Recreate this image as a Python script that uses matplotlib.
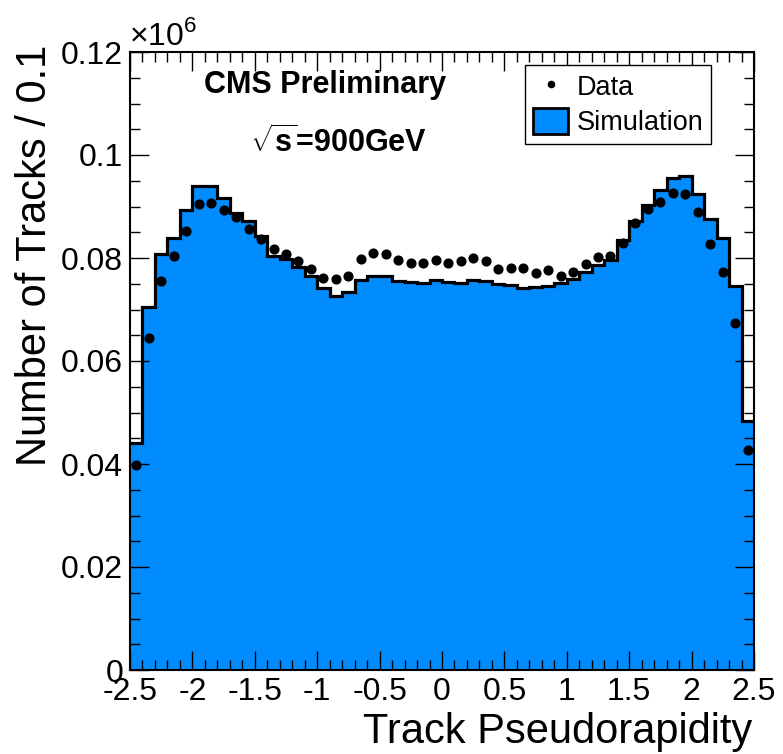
import numpy as np
import matplotlib
matplotlib.use("Agg")
import matplotlib.pyplot as plt
from matplotlib.lines import Line2D
from matplotlib.patches import Patch
from matplotlib.ticker import MultipleLocator, FuncFormatter

plt.rcParams["font.family"] = ["Liberation Sans", "DejaVu Sans"]
plt.rcParams["axes.unicode_minus"] = False
plt.rcParams["mathtext.fontset"] = "custom"
plt.rcParams["mathtext.rm"] = "Liberation Sans"
plt.rcParams["mathtext.bf"] = "Liberation Sans:bold"

BLUE = "#008cff"

# ── data: 50 bins of width 0.1 in eta, contents in units of 10^6 tracks ────
edges = np.round(np.linspace(-2.5, 2.5, 51), 2)

sim = [0.0441, 0.0705, 0.0807, 0.0838, 0.0893, 0.0939, 0.0939, 0.0916, 0.0888, 0.0872,
       0.0842, 0.0804, 0.0798, 0.0783, 0.0765, 0.0741, 0.0726, 0.0734, 0.0757, 0.0766,
       0.0765, 0.0756, 0.0754, 0.0752, 0.0757, 0.0754, 0.0752, 0.0757, 0.0755, 0.0749,
       0.0747, 0.0742, 0.0744, 0.0745, 0.0751, 0.0760, 0.0773, 0.0787, 0.0796, 0.0835,
       0.0871, 0.0903, 0.0932, 0.0956, 0.0960, 0.0925, 0.0875, 0.0838, 0.0745, 0.0483]

data = [0.0398, 0.0644, 0.0755, 0.0803, 0.0853, 0.0905, 0.0907, 0.0893, 0.0879, 0.0856,
        0.0837, 0.0817, 0.0807, 0.0795, 0.0778, 0.0762, 0.0759, 0.0765, 0.0798, 0.0809,
        0.0808, 0.0796, 0.0790, 0.0791, 0.0796, 0.0791, 0.0795, 0.0800, 0.0795, 0.0779,
        0.0781, 0.0781, 0.0771, 0.0776, 0.0765, 0.0772, 0.0788, 0.0801, 0.0803, 0.0830,
        0.0868, 0.0896, 0.0908, 0.0927, 0.0925, 0.0889, 0.0827, 0.0773, 0.0673, 0.0427]

centers = 0.5 * (edges[:-1] + edges[1:])

# ── figure ───────────────────────────────────────────────────────────────────
fig = plt.figure(figsize=(7.83, 7.54), dpi=100)
ax = fig.add_axes([130 / 783, 1 - 670 / 754, 624 / 783, 618 / 754])

ax.stairs(sim, edges, fill=True, color=BLUE, zorder=1)
ax.stairs(sim, edges, color="black", lw=2.3, baseline=None, zorder=2)
ax.plot(centers, data, "o", color="black", ms=6.3, zorder=3)

ax.set_xlim(-2.5, 2.5)
ax.set_ylim(0, 0.12)
ax.xaxis.set_major_locator(MultipleLocator(0.5))
ax.xaxis.set_minor_locator(MultipleLocator(0.1))
ax.yaxis.set_major_locator(MultipleLocator(0.02))
ax.yaxis.set_minor_locator(MultipleLocator(0.005))
ax.xaxis.set_major_formatter(FuncFormatter(lambda v, p: f"{v:g}"))
ax.yaxis.set_major_formatter(
    FuncFormatter(lambda v, p: f"{v:.2f}".rstrip("0").rstrip(".")))
ax.tick_params(which="both", direction="in", top=True, right=True, width=1)
ax.tick_params(which="major", length=14, labelsize=23, pad=5)
ax.tick_params(which="minor", length=7)
for s in ax.spines.values():
    s.set_linewidth(1.5)

# axis titles, ROOT style
fig.text(35 / 783, 1 - 45 / 754, "Number of Tracks / 0.1", rotation=90,
         ha="center", va="top", fontsize=30)
fig.text(752 / 783, 0.003, "Track Pseudorapidity", ha="right", va="bottom",
         fontsize=30)
fig.text(129 / 783, 1 - 45 / 754, r"×10$^{6}$", ha="left", va="baseline",
         fontsize=23)

# labels
fig.text(325 / 783, 1 - 85 / 754, "CMS Preliminary", ha="center", va="center",
         fontsize=22, fontweight="bold")
fig.text(338 / 783, 1 - 142 / 754, r"$\sqrt{\mathbf{s}}$=900GeV", ha="center",
         va="center", fontsize=22, fontweight="bold")

handles = [Line2D([], [], marker="o", ls="none", color="black", ms=4.5, label="Data"),
           Patch(facecolor=BLUE, edgecolor="black", lw=2, label="Simulation")]
leg = ax.legend(handles=handles, loc="upper left", bbox_to_anchor=(0.633, 0.979),
                fontsize=19.5, frameon=True, fancybox=False, edgecolor="black",
                framealpha=1, borderpad=0.3, handlelength=1.3, handleheight=1.1,
                handletextpad=0.3, labelspacing=0.25, borderaxespad=0)
leg.get_frame().set_linewidth(1)

fig.savefig("out.png", dpi=100)
